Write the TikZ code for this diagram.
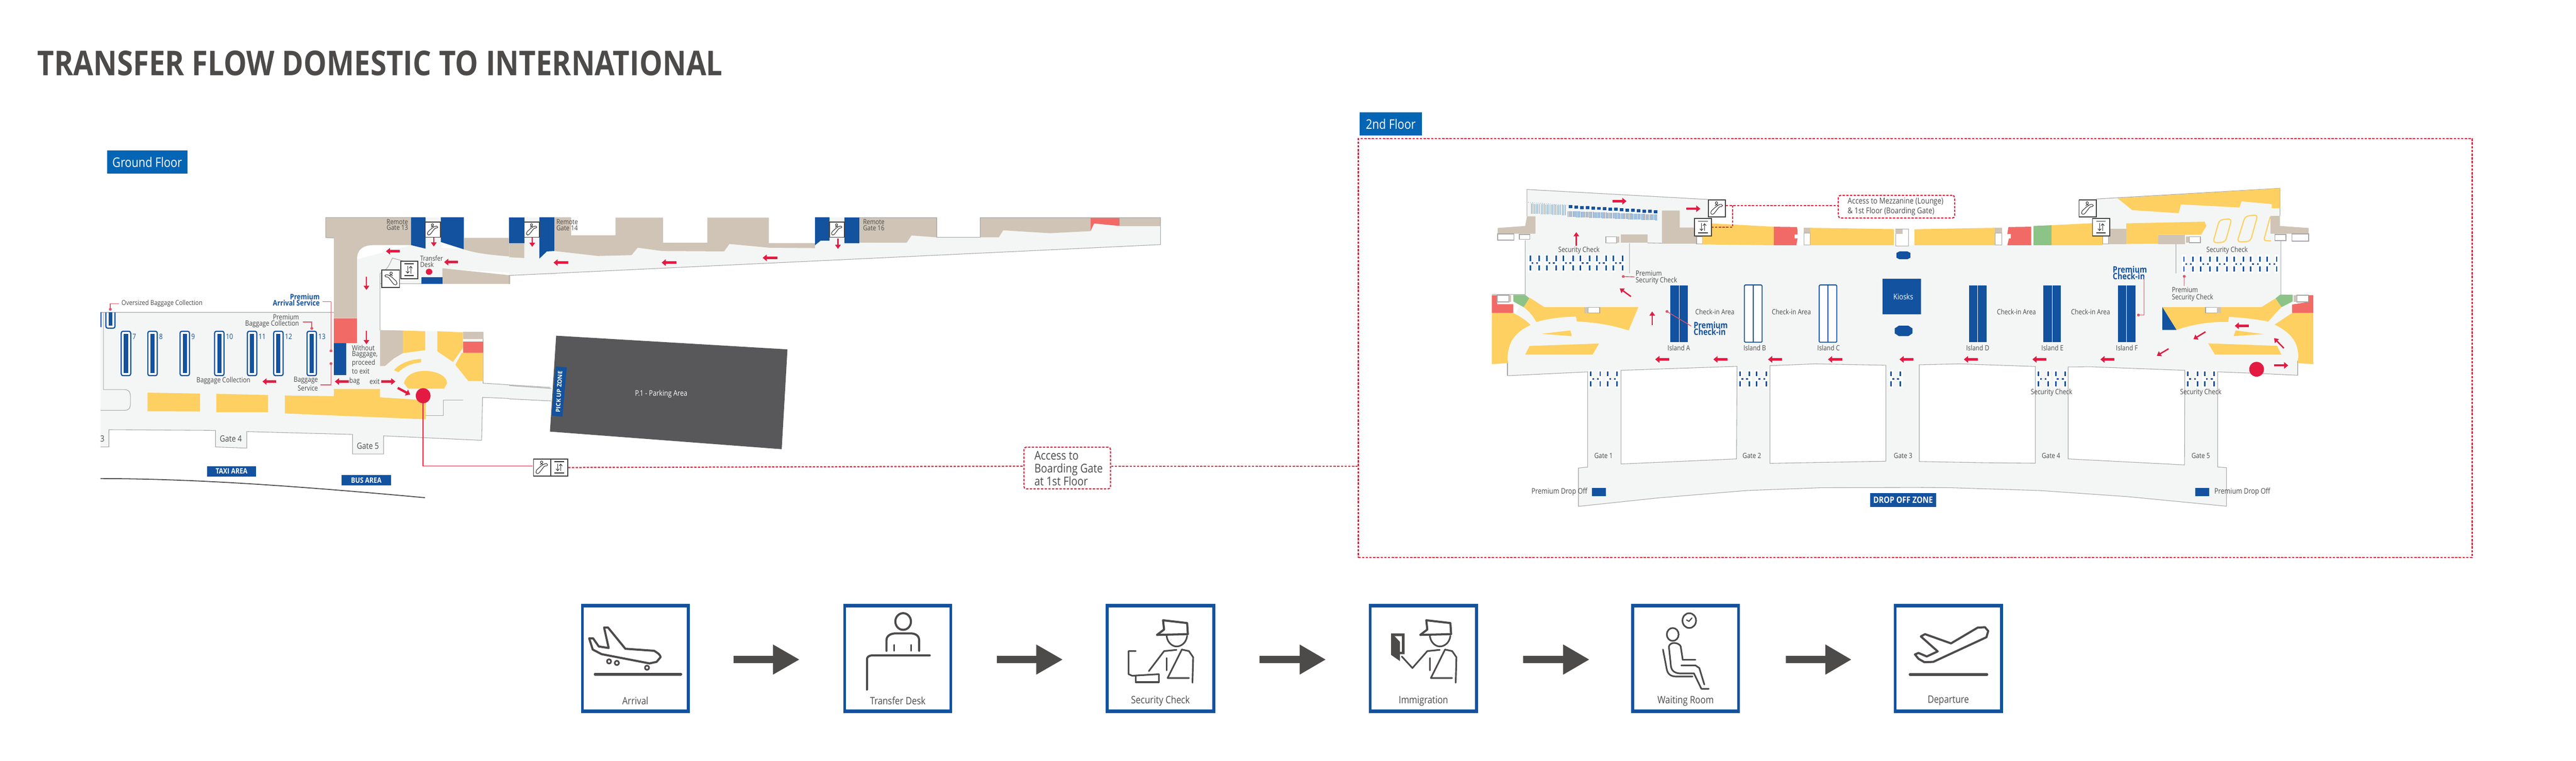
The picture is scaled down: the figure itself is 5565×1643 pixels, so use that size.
\documentclass[tikz,border=0pt]{standalone}
\usepackage{fontspec}
\setmainfont[FakeStretch=0.85]{Open Sans}
\newfontfamily\widefont{Open Sans}
\usetikzlibrary{arrows.meta}
\definecolor{floorc}{HTML}{F4F6F5}
\definecolor{wallc}{HTML}{A6A6A6}
\definecolor{tanc}{HTML}{CFC4B6}
\definecolor{yelc}{HTML}{FED061}
\definecolor{salc}{HTML}{F26A66}
\definecolor{grnc}{HTML}{8CC387}
\definecolor{bluc}{HTML}{13529F}
\definecolor{labc}{HTML}{0565B5}
\definecolor{redc}{HTML}{E31B42}
\definecolor{linc}{HTML}{E0566A}
\definecolor{dshc}{HTML}{D42B45}
\definecolor{parkc}{HTML}{58585A}
\definecolor{ink}{HTML}{4A4A4A}
\definecolor{icoc}{HTML}{4D4A4A}
\newcommand{\fpx}[2]{\fontsize{\fpeval{#1*0.2845}}{\fpeval{#2*0.2845}}\selectfont}
\tikzset{
 z1/.style={shift={(200,300)},x=0.0063776cm,y=-0.0051020cm},
 z2/.style={shift={(1100,400)},x=0.0095694cm,y=-0.0044643cm},
 z3/.style={shift={(3180,380)},x=0.0063776cm,y=-0.0033333cm},
 z4/.style={shift={(4150,380)},x=0.0063776cm,y=-0.0033333cm},
 z5/.style={shift={(3200,780)},x=0.0063776cm,y=-0.0033333cm},
 z6/.style={shift={(4150,780)},x=0.0063776cm,y=-0.0033333cm},
 z7/.style={shift={(1200,1280)},x=0.0076531cm,y=-0.0033333cm},
 z8/.style={shift={(2350,1280)},x=0.0076531cm,y=-0.0033333cm},
 z9/.style={shift={(3500,1280)},x=0.0063776cm,y=-0.0033333cm},
 txt/.style={inner sep=0pt,text=ink,font=\fpx{15.5}{17},align=center},
 txtl/.style={txt,align=left,anchor=west},
 txtr/.style={txt,align=right,anchor=east},
 blu/.style={inner sep=0pt,text=bluc,font=\bfseries\fpx{16.5}{13}},
 fl/.style={fill=floorc},
 wall/.style={draw=wallc,line width=0.012cm},
 tn/.style={fill=tanc},
 yl/.style={fill=yelc},
 sl/.style={fill=salc},
 gn/.style={fill=grnc},
 bl/.style={fill=bluc},
 wbox/.style={fill=white,draw=wallc,line width=0.015cm},
 rarr/.style={draw=redc,line width=0.05cm,-{Triangle[length=0.09cm,width=0.14cm]}},
 rthin/.style={draw=redc,line width=0.025cm,-{Triangle[length=0.09cm,width=0.12cm]}},
 lead/.style={draw=linc,line width=0.015cm},
 ldot/.style={fill=linc},
 dashl/.style={draw=dshc,line width=0.025cm,dash pattern=on 0.05cm off 0.03cm},
 dashb/.style={dashl,rounded corners=0.05cm,fill=white},
 iconbox/.style={draw=black!75,line width=0.02cm,fill=white,inner sep=0pt,rectangle},
 icol/.style={draw=black!80,line width=0.012cm},
 tag/.style={fill=labc,text=white,inner sep=0pt,rectangle},
 ico/.style={draw=icoc,line width=0.045cm,line join=round,line cap=round},
 icot/.style={ico,line width=0.035cm},
 carou/.style={draw=bluc,fill=white,line width=0.025cm,rounded corners=0.04cm},
}
% escalator icon: name, x, y, size(cm), flip
\newcommand{\iconesc}[5]{%
 \node[iconbox,minimum width=#4 cm,minimum height=#4 cm] (#1) at (#2,#3) {};
 \begin{scope}[shift={(#1.center)},x=\fpeval{#5*#4*0.5}cm,y=\fpeval{#4*0.5}cm]
  \draw[icol,rounded corners=0.02cm] (-.7,-.35)--(-.1,.2)--(.3,.45)--(.65,.45)--(.65,.2)--(.3,.2)--(-.4,-.7)--(-.7,-.7)--cycle;
  \draw[icol] (-.05,.62) circle[x radius=.14,y radius=.14];
  \draw[icol] (-.22,.3)--(-.05,.45)--(.12,.35);
 \end{scope}}
% lift icon
\newcommand{\iconlift}[5]{%
 \node[iconbox,minimum width=#4 cm,minimum height=#5 cm] (#1) at (#2,#3) {};
 \begin{scope}[shift={(#1.center)},x=\fpeval{#4*0.5}cm,y=\fpeval{#5*0.5}cm]
  \draw[icol,line width=0.02cm] (-.55,.68)--(.55,.68) (-.55,-.65)--(.55,-.65);
  \draw[icol,-{Straight Barb[length=0.04cm,width=0.07cm]}] (.18,-.42)--(.18,.45);
  \draw[icol,-{Straight Barb[length=0.04cm,width=0.07cm]}] (-.18,.45)--(-.18,-.42);
 \end{scope}}
% security bars in zoom coordinates
\newcommand{\secgroup}[2]{%
 \foreach \xx in {#1} {
  \fill[white] (\xx-7,1260) rectangle (\xx+7,1375);
  \fill[bl] (\xx-2.5,1270) rectangle (\xx+2.5,1301);
  \fill[bl] (\xx-2.5,1333) rectangle (\xx+2.5,1365);}
 \foreach \xx in {#2} {\fill[bl] (\xx-3,1312) rectangle (\xx+3,1322);}}
\begin{document}
\begin{tikzpicture}[x=0.01cm,y=-0.01cm]
\useasboundingbox (0,0) rectangle (5565,1643);
\fill[white] (0,0) rectangle (5565,1643);
\node[inner sep=0pt,anchor=west,text=icoc,font=\bfseries\fpx{73.8}{74}] (title) at (80,137) {TRANSFER FLOW DOMESTIC TO INTERNATIONAL};
\node[tag,minimum width=1.74cm,minimum height=0.5cm,font=\fpx{28.5}{28}] (gfl) at (318,350) {Ground Floor};
\node[tag,minimum width=1.35cm,minimum height=0.5cm,font=\fpx{28.5}{28}] (sfl) at (3004.5,268) {2nd Floor};
% ===== ground floor =====
\begin{scope}[z1]
 \path[fl] (27,735)--(817,735)--(817,420)--(895,420)--(895,510)--(1078,450)--(1568,500)--(1568,578)--(1184,550)--(1184,614)--(973,614)--(973,810)--(1322,818)--(1322,1035)--(1550,1053)--(1550,1107)--(1320,1095)--(1317,1277)--(985,1258)--(985,1335)--(880,1335)--(880,1252)--(522,1240)--(522,1310)--(416,1305)--(416,1235)--(55,1232)--(55,1305)--(27,1305)--cycle;
 \path[tn] (789,333)--(1078,333)--(1078,450)--(950,450) .. controls (915,450) and (895,470) .. (895,510)--(895,760)--(817,760)--(817,420)--(789,418)--cycle;
 \path[fl] (1127,332) rectangle (1179,470);
 \path[bl] (1078,332)--(1127,332)--(1127,465)--(1078,450)--cycle;
 \path[bl] (1179,332)--(1257,332)--(1257,468)--(1179,437)--cycle;
 \path[tn] (1257,419)--(1409,419)--(1409,442)--(1463,442)--(1463,503) .. controls (1380,495) and (1310,490) .. (1257,468)--cycle;
 \path[tn] (1184,548)--(1414,578)--(1414,614)--(1184,614)--cycle;
 \draw[wall] (789,333)--(1078,333) (789,333)--(789,418)--(817,420);
 \path[sl] (817,760) rectangle (895,865);
 \path[bl] (817,865) rectangle (858,1000);
 \path[bl] (1113,585) rectangle (1184,614);
 \draw[wall] (973,614)--(973,810) (973,614)--(1113,614);
 \draw[wall] (973,570) .. controls (1000,555) and (1005,530) .. (1015,505)--(1060,520);
 \draw[wall] (973,570)--(973,614);
 % rear hall walls
 \draw[wall] (27,735)--(817,735) (37,735)--(37,1062)--(110,1062) .. controls (125,1065) and (128,1075) .. (128,1090)--(128,1125) .. controls (128,1140) and (122,1150) .. (110,1150)--(27,1150);
 \draw[wall] (1322,818)--(1322,1035)--(1550,1053) (1550,1107)--(1320,1095)--(1317,1277)--(985,1258)--(985,1335)--(880,1335)--(880,1252)--(522,1240)--(522,1310)--(416,1305)--(416,1235)--(55,1232)--(55,1305)--(27,1305);
 \draw[wall] (1128,1172)--(1188,1172)--(1188,1107)--(1254,1107);
 % concessions
 \path[tn] (973,810)--(1050,812)--(1050,908)--(1020,930)--(990,962)--(973,962)--cycle;
 \path[yl] (1050,812)--(1126,815)--(1126,895)--(1050,908)--cycle;
 \path[yl] (1167,815)--(1254,820)--(1254,885)--(1220,945)--(1167,900)--cycle;
 \path[tn] (1254,818) rectangle (1322,848);
 \path[sl] (1254,858) rectangle (1322,906);
 \path[yl] (1250,906)--(1322,906)--(1322,1026)--(1272,1026)--(1228,957)--cycle;
 \path[yl] (1020,980) .. controls (1045,945) and (1080,935) .. (1112,932)--(1112,947) .. controls (1080,950) and (1055,965) .. (1035,988)--cycle;
 \path[yl] (1054,1035) .. controls (1060,1000) and (1090,983) .. (1125,983) .. controls (1165,983) and (1200,1005) .. (1200,1035)--(1190,1058)--(1068,1058)--cycle;
 \path[yl] (651,1087)--(817,1090)--(817,1060)--(973,1060)--(973,1095)--(1128,1107)--(1128,1188)--(651,1163)--cycle;
 \path[yl] (186,1075)--(364,1079)--(364,1155)--(186,1154)--cycle;
 \path[yl] (419,1080)--(594,1085)--(594,1158)--(419,1158)--cycle;
 % carousels
 \foreach \cx/\cn in {97/7,187/8,296/9,413/10,524/11,613/12,726/13} {
  \draw[carou] (\cx,815) rectangle (\cx+32,1003);
  \path[bl] (\cx+9,827) rectangle (\cx+23,991);
  \node[txt,text=bluc,anchor=west,font=\fpx{16}{16}] (n\cn) at (\cx+37,837) {\cn};
 }
 \draw[bluc,line width=0.025cm,rounded corners=0.04cm] (45,735)--(45,802)--(76,802)--(76,735);
 \path[bl] (54,735) rectangle (67,792);
 \draw[bluc,line width=0.02cm] (29,735)--(29,798);
 % labels and leaders
 \node[txtl,font=\fpx{15}{17}] (tovs) at (97,698) {Oversized Baggage Collection};
 \draw[lead] (60,722)--(60,698)--(90,698);
 \fill[ldot] (60,722) circle[x radius=5,y radius=6];
 \node[blu,align=right,anchor=east] (tpas) at (770,682) {Premium\\Arrival Service};
 \draw[lead] (778,690)--(807,690)--(807,898);
 \fill[ldot] (807,898) circle[x radius=5,y radius=6];
 \node[txtr,font=\fpx{15.5}{13}] (tpbc) at (700,772) {Premium\\Baggage Collection};
 \draw[lead] (712,776)--(742,776)--(742,803);
 \fill[ldot] (742,803) circle[x radius=5,y radius=6];
 \node[txt] (tbc) at (443,1025) {Baggage Collection};
 \node[txtr,font=\fpx{15.5}{12}] (tbs) at (764,1038) {Baggage\\Service};
 \draw[lead] (772,1042)--(807,1042)--(807,952);
 \fill[ldot] (807,952) circle[x radius=5,y radius=6];
 \node[txt] (tbag) at (887,1027) {bag};
 \node[txt] (texit) at (955,1027) {exit};
 \node[txtl,font=\fpx{15.5}{12.4}] (twb) at (877,934) {Without\\Baggage,\\proceed\\to exit};
 \node[txtl,font=\fpx{15}{13}] (ttd) at (1108,519) {Transfer\\Desk};
 \node[txtr,font=\fpx{15}{12.5}] (trg13) at (1069,364) {Remote\\Gate 13};
 \node[txt,font=\fpx{18.5}{17}] (tg4) at (468,1271) {Gate 4};
 \node[txt,font=\fpx{18.5}{17}] (tg5) at (932,1300) {Gate 5};
 \node[txt,font=\fpx{18.5}{17}] (tg3) at (33,1271) {3};
 \path[bl] (387,1386) rectangle (554,1430);
 \node[inner sep=0pt,text=white,font=\bfseries\fpx{16}{15}] (ttaxi) at (470.5,1408) {TAXI AREA};
 \path[bl] (843,1424) rectangle (1010,1468);
 \node[inner sep=0pt,text=white,font=\bfseries\fpx{16}{15}] (tbus) at (926.5,1446) {BUS AREA};
 \draw[black!70,line width=0.02cm] (27,1439) .. controls (300,1440) and (600,1460) .. (1125,1520);
 % red marks
 \fill[redc] (1139,563) circle[x radius=11,y radius=13];
 \draw[redc,line width=0.02cm] (1119,1088)--(1119,1386)--(1490,1386);
 \fill[redc] (1119,1088) circle[x radius=25,y radius=32];
 \draw[rarr] (867,1028)--(820,1028);
 \draw[rarr] (978,1028)--(1025,1028);
 \draw[rarr] (1033,1055)--(1075,1083);
 \draw[rarr] (622,1028)--(575,1028);
 \draw[rarr] (1040,476)--(993,476);
 \draw[rarr] (1237,522)--(1190,522);
 \draw[rthin] (927,583)--(927,640);
 \draw[rthin] (927,812)--(927,870);
 \draw[rthin] (1155,412)--(1155,456);
\end{scope}
\begin{scope}[z2]
 \path[fl] (0,280)--(34,280)--(34,155)--(68,155)--(68,355)--(85,320)--(102,318)--(200,342)--(276,338)--(290,302)--(345,318)--(485,320)--(497,284)--(586,302)--(690,304)--(690,290)--(703,268)--(723,268)--(723,155)--(757,155)--(757,280)--(897,278)--(908,243)--(965,252)--(1105,252)--(1115,218)--(1220,232)--(1312,222)--(1320,185)--(1378,197)--(1470,197)--(1470,287)--(0,436)--cycle;
 \path[tn] (0,280)--(34,280)--(34,352)--(0,348)--cycle;
 \path[bl] (0,155) rectangle (34,280);
 \path[bl] (68,155)--(102,155)--(102,318)--(85,320)--(68,355)--cycle;
 \path[tn] (102,155)--(140,155)--(140,242)--(240,242)--(240,157)--(347,157)--(347,278)--(447,278)--(447,157)--(586,157)--(586,280)--(690,280)--(690,304)--(586,302)--(497,284)--(485,320)--(345,318)--(290,302)--(276,338)--(200,342)--(102,318)--cycle;
 \path[tn] (790,157)--(965,157)--(965,252)--(908,243)--(897,278)--(790,278)--cycle;
 \path[tn] (1063,157)--(1312,157)--(1312,222)--(1220,232)--(1115,218)--(1105,252)--(1063,252)--cycle;
 \path[sl] (1312,157)--(1378,157)--(1378,197)--(1320,185)--(1312,222)--cycle;
 \path[tn] (1378,157) rectangle (1470,197);
 \path[bl] (690,155)--(723,155)--(723,268)--(703,268)--(690,290)--cycle;
 \path[bl] (757,155) rectangle (790,280);
 \draw[wall] (790,157)--(965,157)--(965,252)--(1063,252)--(1063,157)--(1470,157)--(1470,287)--(0,436)--(0,478);
 \node[txtl,font=\fpx{15}{13}] (trg14) at (106,192) {Remote\\Gate 14};
 \node[txtl,font=\fpx{15}{13}] (trg16) at (798,192) {Remote\\Gate 16};
 \draw[rarr] (133,374)--(100,374);
 \draw[rarr] (377,374)--(344,374);
 \draw[rarr] (605,351)--(572,351);
 \draw[rthin] (52,248)--(52,298);
 \draw[rthin] (742,258)--(742,308);
 % parking
 \path[fl] (0,968)--(95,982)--(95,1042)--(0,1032)--cycle;
 \draw[wall] (0,968)--(95,982) (95,1042)--(0,1032);
 \path[fill=parkc] (106,727)--(628,793)--(615,1275)--(92,1190)--cycle;
 \path[bl] (105,875)--(130,880)--(120,1118)--(96,1113)--cycle;
 \node[inner sep=0pt,rotate=87,text=white,font=\widefont\bfseries\fpx{13}{13}] (tpu) at (112.5,997) {PICK UP ZONE};
 \node[inner sep=0pt,text=white,font=\fpx{16.5}{14}] (tpark) at (343,1009) {P.1 - Parking Area};
\end{scope}
\iconesc{eg1}{935}{496}{0.33}{1}
\iconesc{eg2}{1149}{496}{0.33}{1}
\iconesc{eg3}{1808}{496}{0.33}{1}
\iconesc{eg4}{844}{602}{0.38}{-1}
\iconlift{lg1}{884}{583}{0.37}{0.38}
\iconesc{eg5}{1171}{1010}{0.37}{1}
\iconlift{lg2}{1208}{1010}{0.37}{0.37}
% ===== 2nd floor frame =====
\node[draw=dshc,line width=0.025cm,dash pattern=on 0.05cm off 0.03cm,rectangle,inner sep=0pt,minimum width=24.05cm,minimum height=9.04cm] (frame) at (4137.5,752) {};
\coordinate (lineY) at (2000,1007);
\node[dashb,rectangle,inner sep=0pt,minimum width=1.87cm,minimum height=0.9cm] (acc) at (2305.5,1011) {};
\node[txtl,font=\fpx{26}{27.5}] (tacc) at (2234,1012) {Access to\\Boarding Gate\\at 1st Floor};
\draw[dashl] (lg2.east)--(acc.west|-lineY);
\draw[dashl] (acc.east|-lineY)--(frame.west|-lineY);
% floor fills
\begin{scope}[z5]
 \path[fl] (89,95)--(360,70)--(360,688)--(329,694)--(329,943)--(600,888)--(900,840)--(1150,822)--(1568,820)--(1568,-20)--(89,-20)--cycle;
 \draw[wall] (89,-20)--(89,95)--(360,70)--(360,688)--(329,694)--(329,943)--(600,888)--(900,840)--(1150,822)--(1568,820);
 \path[fill=white,draw=wallc,line width=0.012cm] (473,60)--(866,34)--(864,635)--(473,668)--cycle;
 \path[fill=white,draw=wallc,line width=0.012cm] (977,30)--(1130,18)--(1370,27)--(1370,650)--(977,664)--cycle;
\end{scope}
\begin{scope}[z6]
 \path[fl] (1275,92)--(1115,78)--(1004,70)--(1004,688)--(1034,692)--(1034,942)--(700,880)--(400,840)--(100,822)--(0,820)--(0,-20)--(1275,-20)--cycle;
 \draw[wall] (1275,-20)--(1275,92)--(1115,78)--(1004,70)--(1004,688)--(1034,692)--(1034,942)--(700,880)--(400,840)--(100,822)--(0,820);
 \path[fill=white,draw=wallc,line width=0.012cm] (-6,24)--(130,18)--(387,35)--(387,663)--(220,660)--(-6,652)--cycle;
 \path[fill=white,draw=wallc,line width=0.012cm] (498,38)--(575,37)--(893,60)--(892,674)--(498,635)--cycle;
\end{scope}
\begin{scope}[z3]
 \path[fl] (186,88)--(800,153)--(800,450)--(1600,450)--(1600,1200)--(120,1200)--(120,1000)--(180,770)--(180,420)--(186,262)--cycle;
 \draw[wall] (180,770)--(180,418) (186,262)--(186,88)--(800,153) (533,437)--(533,632) (594,435)--(643,437) (67,770)--(180,770);
 % top-left seating
 \foreach \i in {0,...,15} {\path[bl] (328+19.2*\i,190+2.2*\i) rectangle +(12,20);}
 \foreach \i in {0,...,75} {\draw[bluc!70,line width=0.004cm] (325+4*\i,228+0.3*\i) -- +(0,38);}
 \foreach \i in {0,...,21} {\draw[bluc!60,line width=0.004cm] (200+5.5*\i,180+0.5*\i) -- +(0,65);}
 \draw[bluc,line width=0.008cm,densely dotted] (190,172)--(325,190);
 % block top-left
 \path[tn] (87,338)--(180,325)--(186,262)--(215,262)--(215,375)--(87,375)--cycle;
 \path[wbox] (87,377) rectangle (142,417);
 \path[wbox] (160,380) rectangle (196,412);
 \path[wbox] (453,394) rectangle (490,434);
 \path[tn] (490,394) rectangle (498,434);
 \path[tn] (503,380) rectangle (594,435);
 \path[tn] (643,225)--(703,225)--(703,335)--(760,335)--(760,440)--(643,440)--cycle;
 \path[wbox] (760,393) rectangle (780,442);
 % top band
 \path[yl] (780,305)--(1022,330)--(1022,450)--(780,445)--cycle;
 \path[sl] (1022,330)--(1100,332) .. controls (1102,345) and (1102,365) .. (1102,380)--(1092,380)--(1092,405)--(1102,405)--(1098,450)--(1022,450)--cycle;
 \path[tn] (1123,335) rectangle (1145,372);
 \path[fill=white,draw=wallc,line width=0.01cm] (1123,372) rectangle (1145,448);
 \path[yl] (1145,337)--(1428,345)--(1428,450)--(1145,450)--cycle;
 \path[wbox] (1434,345) rectangle (1478,455);
 \path[tn] (1434,345) rectangle (1457,378);
 \path[yl] (1497,345)--(1568,345)--(1568,450)--(1497,450)--cycle;
 % left shapes
 \path[sl] (67,775)--(85,775)--(85,833)--(140,833)--(140,890)--(67,890)--cycle;
 \path[wbox] (85,775) rectangle (125,818);
 \path[tn] (125,775) rectangle (133,818);
 \path[gn] (140,772)--(180,772)--(195,795)--(175,852)--(140,815)--cycle;
 \path[yl] (195,790)--(245,852)--(563,852)--(530,1003) .. controls (470,965) and (410,950) .. (355,945)--(352,913) .. controls (305,915) and (260,925) .. (218,948) .. controls (208,915) and (195,880) .. (175,852)--cycle;
 \path[wbox] (392,853) rectangle (432,890);
 \path[tn] (380,853) rectangle (392,892);
 \path[yl] (67,890)--(140,890) .. controls (165,915) and (185,940) .. (198,968) .. controls (140,1020) and (118,1090) .. (120,1215)--(67,1222)--cycle;
 \path[yl] (235,1025)--(333,1003)--(338,1040)--cycle;
 \path[yl] (195,1104)--(430,1088)--(408,1160)--(180,1160)--cycle;
 \draw[wall] (120,1215)--(120,1295);
 % security
 \foreach \xx in {197,228,253,285,310,342,367,398,423,454,479,510} {
  \fill[white] (\xx-7,510) rectangle (\xx+7,625);
  \fill[bl] (\xx-2.5,518) rectangle (\xx+2.5,553);
  \fill[bl] (\xx-2.5,581) rectangle (\xx+2.5,613);}
 \foreach \xx in {205,220,262,277,318,333,375,390,431,446,487,502} {\fill[bl] (\xx-3,562) rectangle (\xx+3,572);}
 \secgroup{402,434,459,491}{410,426,468,484}
 \secgroup{907,939,964,996}{915,931,973,989}
 \secgroup{1418,1450}{1426,1442}
 % islands
 \path[bl] (671,710) rectangle (700,1080);
 \path[bl] (702,710) rectangle (731,1080);
 \foreach \ix in {922,1175} {
  \draw[bluc,line width=0.02cm,rounded corners=0.02cm,fill=white] (\ix,708) rectangle (\ix+60,1080);
  \draw[bluc,line width=0.02cm] (\ix+30,708)--(\ix+30,1080);
 }
 \path[bl] (1389,668) rectangle (1530,898);
 \node[inner sep=0pt,text=white,font=\fpx{17}{15}] (tkio) at (1460,783) {Kiosks};
 \path[bl] (1437,500)--(1447,490)--(1474,490)--(1484,500)--(1484,531)--(1474,541)--(1447,541)--(1437,531)--cycle;
 \path[bl] (1431,990)--(1445,972)--(1477,972)--(1491,990)--(1491,1022)--(1477,1040)--(1445,1040)--(1431,1022)--cycle;
 % labels
 \node[txt] (tsc1) at (362,483) {Security Check};
 \node[txtl,font=\fpx{15.5}{15}] (tpsc1) at (553,660) {Premium\\Security Check};
 \draw[lead] (512,653)--(550,655);
 \fill[ldot] (512,653) circle[x radius=5,y radius=9];
 \node[txt] (tia) at (700,1117) {Island A};
 \node[txt] (tib) at (957,1117) {Island B};
 \node[txt] (tic) at (1207,1117) {Island C};
 \node[txt] (tca1) at (822,882) {Check-in Area};
 \node[txt] (tca2) at (1081,882) {Check-in Area};
 \node[blu,align=left,anchor=west,font=\bfseries\fpx{19}{15}] (tpci1) at (749,990) {Premium\\Check-in};
 \draw[lead] (660,880)--(742,975);
 \fill[ldot] (660,880) circle[x radius=5,y radius=9];
 % arrows
 \draw[rarr] (475,164)--(523,164);
 \draw[rarr] (726,213)--(773,213);
 \draw[rthin,line width=0.03cm] (353,455)--(353,365);
 \draw[rthin,line width=0.03cm] (538,783)--(500,730);
 \draw[rthin,line width=0.03cm] (610,970)--(610,880);
 \foreach \ax in {668,865,1050,1253,1495} {\draw[rarr] (\ax,1191)--(\ax-48,1191);}
\end{scope}
\begin{scope}[z4]
 \path[fl] (593,150)--(1215,80)--(1215,420)--(1218,420)--(1218,770)--(1275,900)--(1275,1200)--(0,1200)--(0,450)--(593,450)--cycle;
 \draw[wall] (593,150)--(1215,80)--(1215,260) (1218,420)--(1218,770) (863,440)--(863,632) (1275,1215)--(1275,1292);
 \path[yl] (665,145)--(1215,80)--(1215,210)--(1187,210)--(1187,183)--(1085,165)--(1078,205)--(880,185)--(872,242)--(715,222)--cycle;
 \path[yl] (0,345)--(250,337)--(250,450)--(0,450)--cycle;
 \path[tn] (250,337) rectangle (274,370);
 \path[fill=white,draw=wallc,line width=0.01cm] (250,370) rectangle (274,448);
 \path[sl] (292,450)--(298,405)--(304,405)--(304,378)--(292,378)--(296,332)--(373,330)--(373,450)--cycle;
 \path[gn] (381,325)--(442,320)--(442,450)--(381,450)--cycle;
 \path[yl] (442,320)--(580,307)--(615,310)--(615,450)--(442,450)--cycle;
 \path[tn] (635,342) rectangle (695,442);
 \path[fill=white,draw=wallc,line width=0.01cm] (615,370) rectangle (635,440);
 \path[yl] (695,308)--(960,297)--(966,325)--(948,382)--(803,382)--(803,440)--(695,442)--cycle;
 \path[tn] (803,382) rectangle (893,442);
 \path[tn] (897,394) rectangle (908,434);
 \path[wbox] (908,394) rectangle (946,433);
 \draw[yelc,line width=0.025cm,rounded corners=0.08cm] (1010,285)--(1052,278)--(1030,430)--(988,435)--cycle;
 \draw[yelc,line width=0.025cm,rounded corners=0.08cm] (1097,262)--(1140,252)--(1115,425)--(1070,430)--cycle;
 \draw[yelc,line width=0.025cm,rounded corners=0.05cm] (1182,265)--(1160,420)--(1185,422);
 \path[tn] (1183,260)--(1215,260)--(1215,325)--(1312,338)--(1312,375)--(1183,375)--cycle;
 \path[wbox] (1198,380) rectangle (1235,420);
 \path[wbox] (1255,377) rectangle (1312,423);
 % right shapes
 \path[sl] (1312,775)--(1328,775)--(1328,890)--(1256,890)--(1256,835)--(1312,818)--cycle;
 \path[wbox] (1272,775) rectangle (1311,818);
 \path[tn] (1262,775) rectangle (1272,818);
 \path[gn] (1216,770)--(1258,772)--(1258,815)--(1220,852)--(1200,795)--cycle;
 \path[yl] (817,852)--(1152,852)--(1200,795)--(1220,852) .. controls (1205,880) and (1190,915) .. (1175,945) .. controls (1135,930) and (1090,920) .. (1042,915)--(1040,948) .. controls (975,945) and (915,965) .. (865,1000)--cycle;
 \path[bl] (817,852)--(865,1000)--(817,1000)--cycle;
 \path[wbox] (963,853) rectangle (1002,890);
 \path[tn] (1002,853) rectangle (1015,892);
 \path[yl] (1328,890)--(1256,890)--(1197,965) .. controls (1255,1020) and (1285,1090) .. (1275,1215)--(1328,1222)--cycle;
 \path[yl] (1058,1040)--(1065,1003)--(1160,1027)--cycle;
 \path[yl] (972,1087)--(1205,1103)--(1220,1160)--(995,1160)--cycle;
 % security
 \foreach \xx in {890,921,947,978,1003,1035,1060,1091,1116,1147,1172,1204} {
  \fill[white] (\xx-7,510) rectangle (\xx+7,630);
  \fill[bl] (\xx-2.5,525) rectangle (\xx+2.5,558);
  \fill[bl] (\xx-2.5,588) rectangle (\xx+2.5,620);}
 \foreach \xx in {898,914,955,971,1011,1027,1067,1083,1124,1140,1180,1196} {\fill[bl] (\xx-3,568) rectangle (\xx+3,578);}
 \secgroup{398,431,456,488}{406,422,463,480}
 \secgroup{903,936,960,992}{911,927,968,984}
 % islands
 \foreach \ix in {162,414,666} {
  \path[bl] (\ix,710) rectangle (\ix+29,1080);
  \path[bl] (\ix+31,710) rectangle (\ix+60,1080);
 }
 % labels
 \node[txt] (tid) at (192,1117) {Island D};
 \node[txt] (tie) at (445,1117) {Island E};
 \node[txt] (tif) at (697,1117) {Island F};
 \node[txt] (tca3) at (323,882) {Check-in Area};
 \node[txt] (tca4) at (574,882) {Check-in Area};
 \node[blu,align=left,anchor=west,font=\bfseries\fpx{19}{15}] (tpci2) at (648,629) {Premium\\Check-in};
 \draw[lead] (755,658)--(755,903)--(736,903);
 \fill[ldot] (736,903) circle[x radius=5,y radius=9];
 \node[txtl,font=\fpx{15.5}{15}] (tpsc2) at (848,768) {Premium\\Security Check};
 \draw[lead] (891,652)--(891,715);
 \fill[ldot] (891,652) circle[x radius=5,y radius=9];
 \node[txt] (tsc2) at (1036,484) {Security Check};
 \node[txt] (tsc3) at (442,1407) {Security Check};
 \node[txt] (tsc4) at (947,1407) {Security Check};
 % arrows
 \foreach \ax in {193,425,655} {\draw[rarr] (\ax,1191)--(\ax-48,1191);}
 \draw[rarr] (1110,973)--(1062,973);
 \draw[rthin,line width=0.03cm] (963,1012)--(922,1060);
 \draw[rthin,line width=0.03cm] (838,1122)--(798,1168);
 \draw[rthin,line width=0.03cm] (1228,1118)--(1195,1053);
 \draw[rarr] (1195,1230)--(1243,1230);
 \fill[redc] (1136,1255) circle[x radius=25,y radius=48];
\end{scope}
\iconesc{es1}{3709}{450}{0.37}{1}
\iconlift{ls1}{3679}{491}{0.37}{0.38}
\iconesc{es2}{4510}{450}{0.37}{1}
\iconlift{ls2}{4539}{491}{0.37}{0.38}
% mezzanine access
\node[dashb,rectangle,inner sep=0pt,minimum width=2.51cm,minimum height=0.49cm] (mez) at (4097,446.5) {};
\node[txtl,font=\fpx{17.5}{17.3}] (tmez) at (3991,446.5) {Access to Mezzanine (Lounge)\\\& 1st Floor (Boarding Gate)};
\coordinate (mezY) at (3000,444);
\coordinate (mezX) at (3743,444);
\draw[dashl] (es1.east|-mezY)--(mez.west|-mezY);
\draw[dashl] (mezX)--(mezX|-ls1.east)--(ls1.east);
\begin{scope}[z5]
 \node[txt] (tg1) at (414,613) {Gate 1};
 \node[txt] (tg2) at (916,613) {Gate 2};
 \node[txt] (tg33) at (1428,613) {Gate 3};
 \node[txtr,font=\fpx{16.5}{15}] (tpd1) at (360,850) {Premium Drop Off};
 \path[bl] (374,822) rectangle (422,877);
 \path[bl] (1317,858) rectangle (1540,946);
 \node[inner sep=0pt,text=white,font=\bfseries\fpx{19}{18}] (tdrop) at (1428,902) {DROP OFF ZONE};
\end{scope}
\begin{scope}[z6]
 \node[txt] (tg44) at (440,613) {Gate 4};
 \node[txt] (tg55) at (947,613) {Gate 5};
 \path[bl] (928,822) rectangle (975,877);
 \node[txtl,font=\fpx{16.5}{15}] (tpd2) at (992,850) {Premium Drop Off};
\end{scope}
% ===== flow =====
\foreach \bx/\bw/\bn/\bt in {1255/235/a/Arrival,1822/235/b/Transfer Desk,2389/236/c/Security Check,2957/236/d/Immigration,3524/235/e/Waiting Room,4091/236/f/Departure} {
 \fill[bluc] (\bx,1304) rectangle (\bx+\bw,1540);
 \fill[white] (\bx+6,1312) rectangle (\bx+\bw-6,1533);
 \node[txt,font=\fpx{22}{20}] (flow\bn) at (\bx+\bw/2,1514) {\bt};
}
\begin{scope}[z7]
 \foreach \dx in {0,742} {
  \fill[icoc] (502+\dx,411)--(613+\dx,411)--(613+\dx,337)--(687+\dx,435)--(613+\dx,533)--(613+\dx,458)--(502+\dx,458)--cycle;
 }
 \draw[ico] (137,227)--(148,227)--(197,365)--(278,378) .. controls (290,395) and (296,405) .. (296,420)--(285,450)--(265,460)--(130,400)--(105,370)--(95,297)--(106,297)--(122,350)--(150,360)--cycle;
 \draw[icot] (151,447) circle[x radius=6,y radius=14];
 \draw[icot] (173,457) circle[x radius=6,y radius=14];
 \draw[icot] (258,488) circle[x radius=6,y radius=14];
 \fill[icoc,rounded corners=0.02cm] (108,522) rectangle (357,540);
 \draw[ico] (980,188) circle[x radius=22,y radius=54];
 \draw[ico] (933,378)--(933,310) .. controls (933,280) and (945,265) .. (960,265)--(1000,265) .. controls (1015,265) and (1025,280) .. (1025,310)--(1025,378);
 \draw[icot] (955,340)--(955,378) (1003,340)--(1003,378);
 \draw[ico] (1055,408)--(895,408) .. controls (882,408) and (878,420) .. (878,435)--(878,630);
\end{scope}
\begin{scope}[z8]
 \foreach \dx in {0,743} {
  \fill[icoc] (484+\dx,411)--(597+\dx,411)--(597+\dx,337)--(670+\dx,435)--(597+\dx,533)--(597+\dx,458)--(484+\dx,458)--cycle;
 }
 \foreach \dx in {0,742} {
  \draw[ico] (212+\dx,180)--(280+\dx,198)--(282+\dx,270)--(195+\dx,275)--(215+\dx,240)--cycle;
  \draw[icot] (222+\dx,282) .. controls (225+\dx,330) and (240+\dx,350) .. (250+\dx,350) .. controls (262+\dx,350) and (277+\dx,330) .. (280+\dx,282);
  \draw[icot] (265+\dx,370) -- (225+\dx,555)--(285+\dx,555);
  \draw[icot] (265+\dx,370)--(285+\dx,380)--(297+\dx,420)--(295+\dx,585);
  \draw[icot] (222+\dx,425)--(222+\dx,505);
 }
 \draw[icot] (172,510)--(215,380)--(250,372);
 \draw[icot] (135,380)--(115,380)--(115,530)--(125,540)--(200,530);
 \draw[icot] (135,540)--(135,582)--(200,582)--(200,530);
 \fill[icoc] (855,265)--(893,265)--(893,400)--(880,400)--(880,445)--(855,405)--cycle;
 \fill[white] (865,283)--(885,283)--(885,385)--(880,385)--(880,320)--cycle;
 \draw[icot] (885,415)--(915,490)--(957,380)--(992,372);
\end{scope}
\begin{scope}[z9]
 \fill[icoc] (561,411)--(695,411)--(695,337)--(782,435)--(695,533)--(695,458)--(561,458)--cycle;
 \draw[icot] (234,182) circle[x radius=23,y radius=48];
 \draw[ico,line width=0.025cm] (225,178)--(233,187)--(243,165);
 \draw[icot] (178,272) circle[x radius=20,y radius=42];
 \draw[icot] (212,437)--(205,350) .. controls (200,325) and (170,315) .. (165,350)--(172,480) .. controls (175,515) and (190,525) .. (205,525)--(250,525)--(275,625)--(300,625);
 \draw[icot] (212,437)--(255,437);
 \draw[icot] (207,473)--(255,473)--(268,490)--(285,597);
 \draw[icot] (145,370)--(158,500) .. controls (162,535) and (175,545) .. (190,545)--(245,545);
 \draw[ico] (1032,270)--(1120,330)--(1210,228)--(1235,225)--(1246,250)--(1240,290)--(1060,450)--(1030,452)--(1010,430)--(998,402)--(1010,392)--(1038,415)--(1075,382)--(1018,285)--cycle;
 \fill[icoc,rounded corners=0.02cm] (977,523) rectangle (1246,541);
\end{scope}
\end{tikzpicture}
\end{document}
